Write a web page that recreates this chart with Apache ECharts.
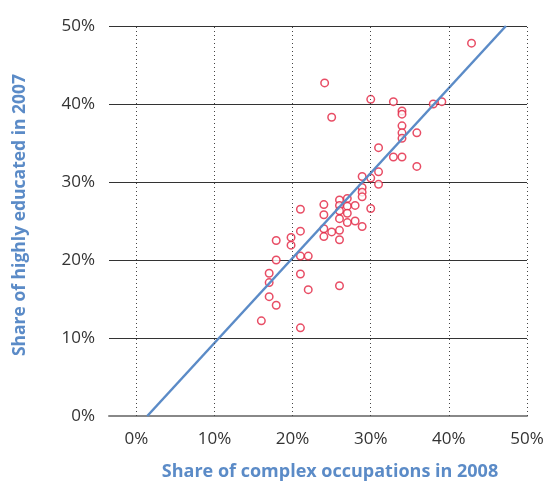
<!DOCTYPE html>
<html>
<head>
<meta charset="utf-8">
<script src="https://cdn.jsdelivr.net/npm/echarts@6/dist/echarts.min.js"></script>
<style>
  html, body { margin: 0; padding: 0; background: #fff; }
  #chart { width: 547px; height: 481px; }
</style>
</head>
<body>
<div id="chart"></div>
<script>
// Share of complex occupations in 2008 (%) per region
var complexShare2008 = [
  42.9, 24.1, 30.0, 32.9, 38.0, 39.1, 25.0, 34.0, 34.0, 34.0, 34.0, 34.0,
  35.9, 31.0, 32.9, 34.0, 35.9, 28.9, 30.0, 31.0, 31.0, 28.9, 28.9, 28.9,
  26.0, 27.0, 26.0, 27.0, 28.0, 24.0, 21.0, 30.0, 26.0, 27.0, 24.0, 26.0,
  28.0, 27.0, 28.9, 24.0, 25.0, 26.0, 24.0, 26.0, 21.0, 19.8, 17.9, 19.8,
  17.9, 21.0, 22.0, 17.0, 21.0, 17.0, 22.0, 26.0, 17.0, 17.9, 16.0, 21.0
];
// Share of highly educated in 2007 (%) per region
var educatedShare2007 = [
  47.8, 42.7, 40.6, 40.3, 40.0, 40.3, 38.3, 39.1, 38.7, 37.2, 36.3, 35.6,
  36.3, 34.4, 33.2, 33.2, 32.0, 30.7, 30.5, 31.3, 29.7, 29.3, 28.7, 28.1,
  27.7, 27.9, 27.0, 26.9, 27.0, 27.1, 26.5, 26.6, 26.3, 26.0, 25.8, 25.3,
  25.0, 24.8, 24.3, 24.0, 23.6, 23.8, 23.0, 22.6, 23.7, 22.9, 22.5, 21.9,
  20.0, 20.5, 20.5, 18.3, 18.2, 17.1, 16.2, 16.7, 15.3, 14.2, 12.2, 11.3
];
// Fitted line end points (x %, y %)
var trendX = [1.4, 47.3];
var trendY = [0, 50];
// Tick values for both axes
var xTicks = [0, 10, 20, 30, 40, 50];
var yTicks = [0, 10, 20, 30, 40, 50];

var points = complexShare2008.map(function (x, i) { return [x, educatedShare2007[i]]; });
var trend = trendX.map(function (x, i) { return [x, trendY[i]]; });

var FONT = '"Open Sans", "Noto Sans", sans-serif';
var BLUE = '#5b8bc7';
var RED = '#e2203f';

var chart = echarts.init(document.getElementById('chart'), null, { renderer: 'canvas' });
chart.setOption({
  animation: false,
  grid: { left: 109, right: 20, top: 26, bottom: 65, containLabel: false, outerBoundsMode: 'none' },
  xAxis: {
    type: 'value',
    min: -3.5,
    max: 50,
    name: 'Share of complex occupations in 2008',
    nameLocation: 'middle',
    nameGap: 47,
    nameTextStyle: {
      fontFamily: FONT, fontWeight: 'bold', fontSize: 18, color: BLUE,
      padding: [0, 0, 0, 24]
    },
    axisLine: { show: true, lineStyle: { color: '#888', width: 2 } },
    axisTick: { show: false },
    splitLine: { show: false },
    axisLabel: {
      customValues: xTicks,
      formatter: function (v) { return v + '%'; },
      fontFamily: FONT, fontSize: 17, color: '#333', margin: 15
    }
  },
  yAxis: {
    type: 'value',
    min: yTicks[0],
    max: yTicks[yTicks.length - 1],
    interval: 10,
    name: 'Share of highly educated in 2007',
    nameLocation: 'middle',
    nameGap: 80,
    nameTextStyle: {
      fontFamily: FONT, fontWeight: 'bold', fontSize: 17.5, color: BLUE,
      padding: [0, 0, 0, 12]
    },
    axisLine: { show: false },
    axisTick: { show: false },
    splitLine: { show: true, lineStyle: { color: '#333', width: 1 } },
    axisLabel: {
      formatter: function (v) { return v + '%'; },
      fontFamily: FONT, fontSize: 17, color: '#333', margin: 14,
      verticalAlign: 'middle', padding: [0, 0, 10, 0]
    }
  },
  series: [
    {
      type: 'line',
      data: [],
      silent: true,
      markLine: {
        silent: true,
        symbol: ['none', 'none'],
        label: { show: false },
        lineStyle: { color: '#444', width: 1, type: [1, 3] },
        data: xTicks.map(function (v) { return { xAxis: v }; })
      },
      z: 1
    },
    {
      type: 'line',
      data: trend,
      showSymbol: false,
      symbol: 'none',
      lineStyle: { color: BLUE, width: 2.5 },
      clip: true,
      z: 3
    },
    {
      type: 'scatter',
      data: points,
      symbol: 'circle',
      symbolSize: 7.5,
      itemStyle: { color: '#fff', borderColor: RED, borderWidth: 1.5 },
      z: 2
    }
  ]
});
</script>
</body>
</html>
